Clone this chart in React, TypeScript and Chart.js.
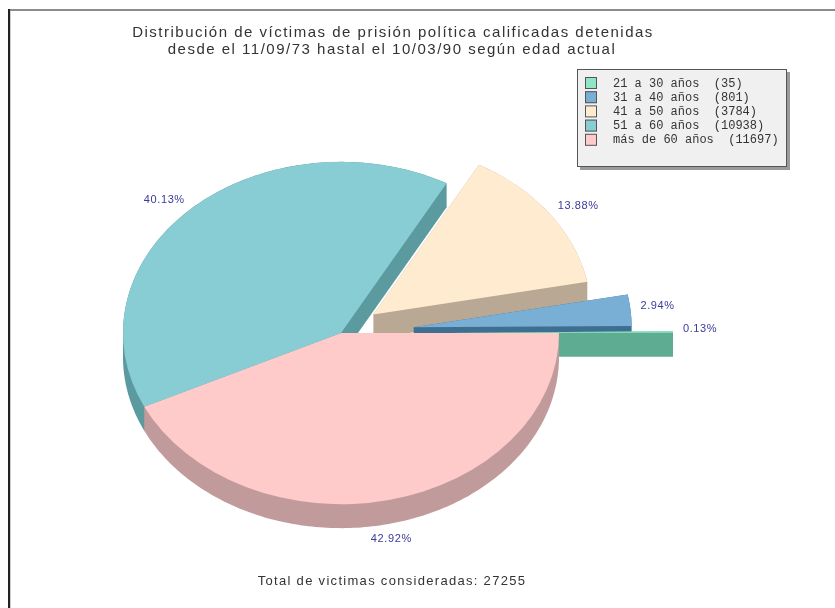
import React, { useEffect, useRef } from 'react';
import { Chart, registerables } from 'chart.js';

Chart.register(...registerables);

// ---------- data ----------
const TITLE_LINES = [
  'Distribución de víctimas de prisión política calificadas detenidas',
  'desde el 11/09/73 hastal el 10/03/90 según edad actual',
];
const FOOTER_PREFIX = 'Total de victimas consideradas: ';
const AGE_GROUPS = ['21 a 30 años', '31 a 40 años', '41 a 50 años', '51 a 60 años', 'más de 60 años'];
const VICTIMS = [35, 801, 3784, 10938, 11697];

// ---------- styles ----------
// order in which the slices run clockwise from 3 o'clock (indices into AGE_GROUPS)
const SLICE_ORDER = [4, 3, 2, 1, 0];
const TOP_COLORS = ['#8FE6C6', '#79AED5', '#FFEBD0', '#88CDD4', '#FFCACA'];
const SIDE_COLORS = ['#5EAD92', '#3E6E90', '#B9A893', '#5B9A9E', '#C19B9B'];
const EXPLODE = [114, 73, 40, 0, 0];
const TILT = 0.785;
const DEPTH = 24;
const LABEL_GAP = 10;

const W = 835;
const H = 608;

type P = [number, number];
function hull(pts: P[]): P[] {
  const p = pts.slice().sort((a, b) => (a[0] - b[0]) || (a[1] - b[1]));
  const cross = (o: P, a: P, b: P) => (a[0] - o[0]) * (b[1] - o[1]) - (a[1] - o[1]) * (b[0] - o[0]);
  const lower: P[] = [];
  for (const q of p) {
    while (lower.length >= 2 && cross(lower[lower.length - 2], lower[lower.length - 1], q) <= 0) lower.pop();
    lower.push(q);
  }
  const upper: P[] = [];
  for (let i = p.length - 1; i >= 0; i--) {
    const q = p[i];
    while (upper.length >= 2 && cross(upper[upper.length - 2], upper[upper.length - 1], q) <= 0) upper.pop();
    upper.push(q);
  }
  upper.pop();
  lower.pop();
  return lower.concat(upper);
}

const pie3d = {
  id: 'pie3d',
  beforeDraw(chart: any) {
    const ctx = chart.ctx as CanvasRenderingContext2D;
    ctx.save();
    ctx.fillStyle = '#ffffff';
    ctx.fillRect(0, 0, W, H);
    // frame
    ctx.fillStyle = '#8c8c8c';
    ctx.fillRect(8, 9, W - 8, 2);
    ctx.fillStyle = '#222222';
    ctx.fillRect(8, 9, 2, H);
    ctx.fillStyle = '#d0d0d0';
    ctx.fillRect(10, 11, 1, H);
    // title
    ctx.fillStyle = '#333333';
    ctx.font = '15px "Liberation Sans", Arial, sans-serif';
    (ctx as any).letterSpacing = '1.5px';
    ctx.textAlign = 'center';
    ctx.textBaseline = 'middle';
    ctx.fillText(TITLE_LINES[0], 393, 33);
    ctx.fillText(TITLE_LINES[1], 392, 50);
    // footer
    const total = VICTIMS.reduce((a, b) => a + b, 0);
    ctx.font = '13px "Liberation Sans", Arial, sans-serif';
    (ctx as any).letterSpacing = '1.3px';
    ctx.fillText(FOOTER_PREFIX + total, 392, 581);
    ctx.restore();
  },
  beforeDatasetsDraw(chart: any) {
    const ctx = chart.ctx as CanvasRenderingContext2D;
    const meta = chart.getDatasetMeta(0);
    const arcs = meta.data as any[];
    if (!arcs.length) return false;
    const cx = arcs[0].x;
    const cy = arcs[0].y;
    const geo = arcs.map((a, j) => {
      const mid = (a.startAngle + a.endAngle) / 2;
      const off = EXPLODE[SLICE_ORDER[j]];
      return { a, j, s: a.startAngle, e: a.endAngle, R: a.outerRadius, mid, dx: Math.cos(mid) * off, dy: Math.sin(mid) * off };
    });
    // side walls: the sector swept down by DEPTH (convex hull of top and bottom outline)
    const back = geo.slice().sort((g1, g2) => Math.sin(g1.mid) - Math.sin(g2.mid));
    back.forEach((g) => {
      const ax = cx + g.dx;
      const ay = cy + g.dy * TILT;
      const pts: P[] = [[ax, ay]];
      const n = Math.max(2, Math.ceil(((g.e - g.s) * 180) / Math.PI));
      for (let k = 0; k <= n; k++) {
        const t = g.s + ((g.e - g.s) * k) / n;
        pts.push([ax + g.R * Math.cos(t), ay + g.R * Math.sin(t) * TILT]);
      }
      const all: P[] = pts.concat(pts.map((q) => [q[0], q[1] + DEPTH] as P));
      const h = hull(all);
      ctx.beginPath();
      h.forEach((q, i) => (i ? ctx.lineTo(q[0], q[1]) : ctx.moveTo(q[0], q[1])));
      ctx.closePath();
      ctx.fillStyle = SIDE_COLORS[SLICE_ORDER[g.j]];
      ctx.fill();
    });
    // top faces drawn by the library's arc elements
    geo.forEach((g) => {
      ctx.save();
      ctx.translate(cx, cy);
      ctx.scale(1, TILT);
      ctx.translate(-cx, -cy);
      ctx.translate(g.dx, g.dy);
      g.a.draw(ctx);
      ctx.restore();
    });
    // percentage labels
    const total = VICTIMS.reduce((a, b) => a + b, 0);
    ctx.save();
    ctx.font = '11px "Liberation Sans", Arial, sans-serif';
    (ctx as any).letterSpacing = '0.6px';
    ctx.fillStyle = '#3a3a9a';
    ctx.textBaseline = 'middle';
    geo.forEach((g, j) => {
      const idx = SLICE_ORDER[j];
      const pct = ((VICTIMS[idx] / total) * 100).toFixed(2) + '%';
      const c = Math.cos(g.mid);
      const s = Math.sin(g.mid);
      const ax = cx + g.dx;
      const ay = cy + g.dy * TILT;
      const x = ax + (g.R + LABEL_GAP) * c;
      const y = ay + (g.R + LABEL_GAP) * s * TILT + (s > 0 ? (DEPTH + 8) * s : -3);
      ctx.textAlign = c > 0.3 ? 'left' : c < -0.3 ? 'right' : 'center';
      ctx.fillText(pct, x, y);
    });
    ctx.restore();
    return false;
  },
  afterDraw(chart: any) {
    const ctx = chart.ctx as CanvasRenderingContext2D;
    // legend box
    const bx = 577, by = 69, bw = 210, bh = 98;
    ctx.save();
    ctx.fillStyle = '#9a9a9a';
    ctx.fillRect(bx + 3, by + 3, bw, bh);
    ctx.fillStyle = '#f0f0f0';
    ctx.fillRect(bx, by, bw, bh);
    ctx.strokeStyle = '#555555';
    ctx.lineWidth = 1;
    ctx.strokeRect(bx + 0.5, by + 0.5, bw - 1, bh - 1);
    ctx.font = '12px "Liberation Mono", "DejaVu Sans Mono", monospace';
    ctx.textBaseline = 'middle';
    ctx.textAlign = 'left';
    AGE_GROUPS.forEach((label, i) => {
      const yy = by + 14 + i * 14.2;
      ctx.fillStyle = TOP_COLORS[i];
      ctx.fillRect(bx + 8, yy - 6, 12, 12);
      ctx.strokeStyle = '#555555';
      ctx.strokeRect(bx + 8.5, yy - 5.5, 11, 11);
      ctx.fillStyle = '#333333';
      ctx.fillText(label + '  (' + VICTIMS[i] + ')', bx + 36, yy + 0.5);
    });
    ctx.restore();
  },
};

export default function App() {
  const ref = useRef<HTMLCanvasElement>(null);
  useEffect(() => {
    if (!ref.current) return;
    const chart = new Chart(ref.current, {
      type: 'pie',
      data: {
        labels: SLICE_ORDER.map((i) => AGE_GROUPS[i]),
        datasets: [
          {
            data: SLICE_ORDER.map((i) => VICTIMS[i]),
            backgroundColor: SLICE_ORDER.map((i) => TOP_COLORS[i]),
            borderWidth: 0,
            hoverOffset: 0,
            offset: 0,
            radius: 218,
            rotation: 90,
            clip: false,
          } as any,
        ],
      },
      options: {
        responsive: false,
        animation: false,
        devicePixelRatio: 1,
        events: [],
        layout: { padding: { left: 0, right: 153, top: 58, bottom: 0 } },
        plugins: {
          legend: { display: false },
          title: { display: false },
          tooltip: { enabled: false },
        },
      } as any,
      plugins: [pie3d],
    });
    return () => chart.destroy();
  }, []);
  return (
    <div style={{ position: 'absolute', left: 0, top: 0, width: W, height: H }}>
      <canvas ref={ref} width={W} height={H} style={{ display: 'block', width: W, height: H }} />
    </div>
  );
}
